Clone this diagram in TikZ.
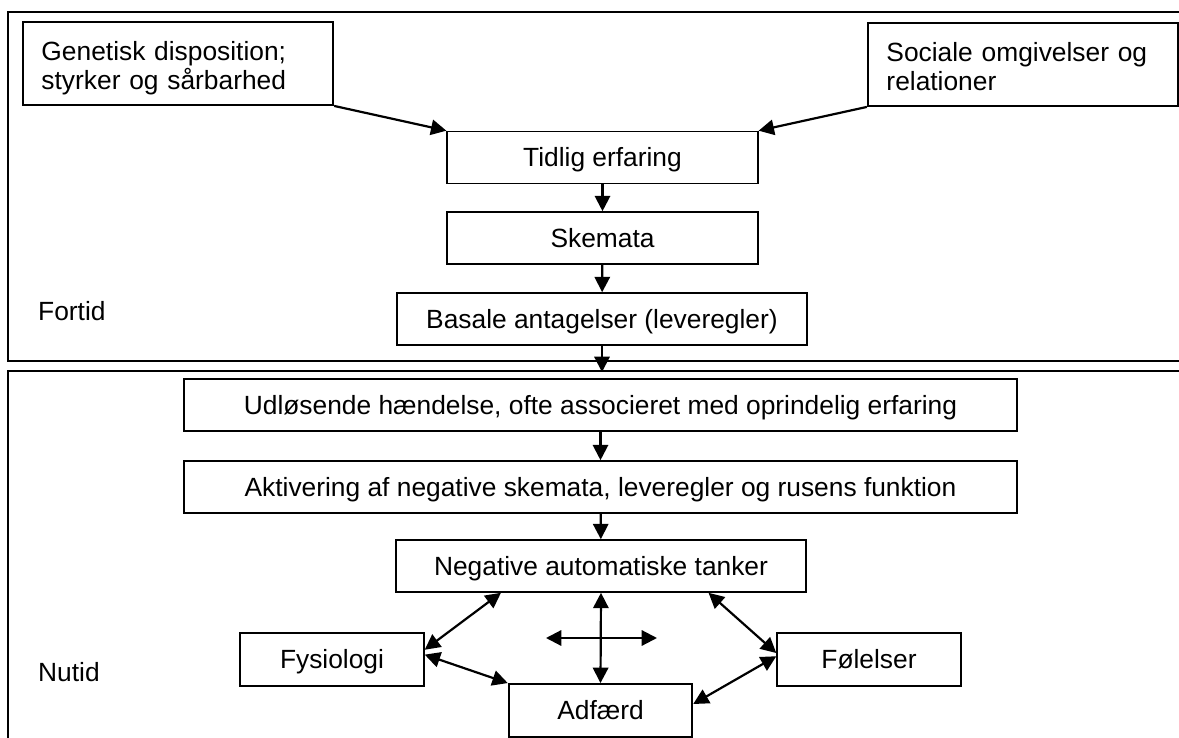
\documentclass[tikz,border=0pt]{standalone}
\usepackage{fontspec}
\setmainfont{Liberation Sans}
\usetikzlibrary{arrows.meta}

\begin{document}
\begin{tikzpicture}[x=0.016cm, y=-0.016cm, line width=0.8pt,
  every node/.style={font=\fontsize{12pt}{13pt}\selectfont},
  box/.style={draw, rectangle, inner sep=0pt, minimum width=4.97cm, minimum height=0.83cm,
    text height=8.6pt, text depth=0pt},
  widebox/.style={box, minimum width=13.33cm},
  midbox/.style={box, minimum width=6.56cm},
  smallbox/.style={box, minimum width=2.94cm, minimum height=0.85cm},
  topbox/.style={draw, rectangle, inner sep=0pt, minimum width=4.97cm, minimum height=1.33cm,
    align=left, text width=4.37cm, text height=10pt, text depth=12.6pt},
  arr/.style={line width=1pt, -{Triangle[length=7pt,width=7pt]}},
  dbl/.style={line width=1pt, {Triangle[length=7pt,width=7pt]}-{Triangle[length=7pt,width=7pt]}}]

\useasboundingbox (0,0) rectangle (1179,738);
\clip (0,0) rectangle (1179,738);

% frames
\draw [line width=1pt] (1200,12) -- (8,12) -- (8,361) -- (1200,361);
\draw [line width=1pt] (1200,371) -- (8,371) -- (8,760);

\node [anchor=base west] (fortid) at (30,320) {Fortid};
\node [anchor=base west] (nutid) at (30,681) {Nutid};

% fortid
\node [topbox] (genetisk) at (178,63.5) {Genetisk disposition;\\styrker og sårbarhed};
\node [topbox] (sociale) at (1023,64.5) {Sociale omgivelser og\\relationer};
\node [box] (tidlig) at (602.5,157.5) {Tidlig erfaring};
\node [box] (skemata) at (602.5,238) {Skemata};
\node [midbox] (basale) at (602,319) {Basale antagelser (leveregler)};
\coordinate (nutidtop) at (602,372);

\draw [arr] (genetisk.south east) -- (tidlig.north west);
\draw [arr] (sociale.south west) -- (tidlig.north east);
\draw [arr] (tidlig) -- (skemata);
\draw [arr] (skemata) -- (basale);
\draw [arr] (basale) -- (nutidtop);

% nutid
\node [widebox] (udlosende) at (600.5,405) {Udløsende hændelse, ofte associeret med oprindelig erfaring};
\node [widebox] (aktivering) at (600.5,487) {Aktivering af negative skemata, leveregler og rusens funktion};
\node [midbox] (negative) at (601,566) {Negative automatiske tanker};
\node [smallbox] (fysiologi) at (332,659.5) {Fysiologi};
\node [smallbox] (adfaerd) at (600.5,710.5) {Adfærd};
\node [smallbox] (folelser) at (869,659.5) {Følelser};

\draw [arr] (udlosende) -- (aktivering);
\draw [arr] (aktivering) -- (negative);

\draw [dbl] (fysiologi.6) -- (negative.195.6);
\draw [dbl] (fysiologi.3) -- (adfaerd.north west);
\draw [dbl] (negative.-14.3) -- (folelser.176);
\draw [dbl] (folelser.178) -- (adfaerd.4);
\draw [dbl] (negative.south) -- (adfaerd.north);

\coordinate (crossl) at (546,638);
\coordinate (crossr) at (657,638);
\draw [dbl] (crossl) -- (crossr);

\end{tikzpicture}
\end{document}
